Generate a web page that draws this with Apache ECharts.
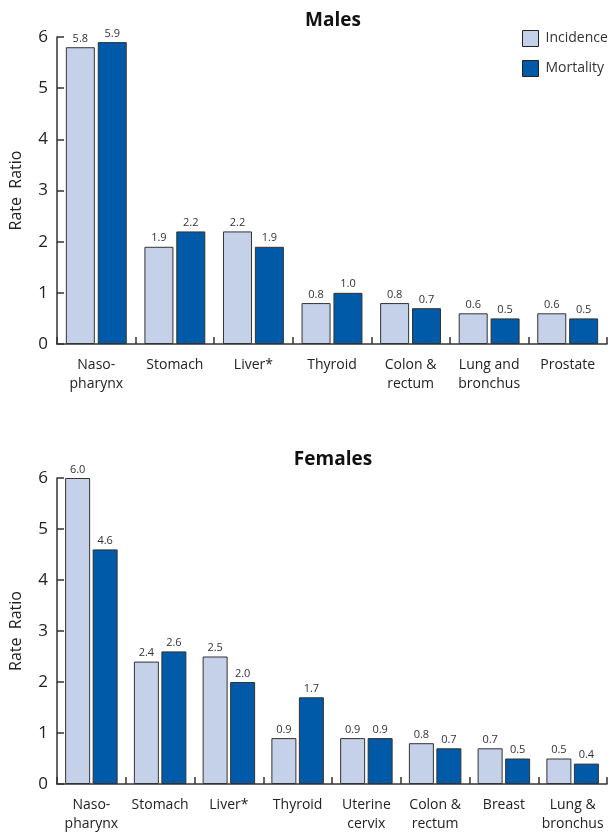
<!DOCTYPE html>
<html>
<head>
<meta charset="utf-8">
<script src="https://cdn.jsdelivr.net/npm/echarts@6/dist/echarts.min.js"></script>
<style>html,body{margin:0;padding:0;background:#fff}#c{width:614px;height:837px}</style>
</head>
<body>
<div id="c"></div>
<script>
var maleCategories = ['Naso-\npharynx', 'Stomach', 'Liver*', 'Thyroid', 'Colon &\nrectum', 'Lung and\nbronchus', 'Prostate'];
var maleIncidence = [5.8, 1.9, 2.2, 0.8, 0.8, 0.6, 0.6];
var maleMortality = [5.9, 2.2, 1.9, 1.0, 0.7, 0.5, 0.5];
var femaleCategories = ['Naso-\npharynx', 'Stomach', 'Liver*', 'Thyroid', 'Uterine\ncervix', 'Colon &\nrectum', 'Breast', 'Lung &\nbronchus'];
var femaleIncidence = [6.0, 2.4, 2.5, 0.9, 0.9, 0.8, 0.7, 0.5];
var femaleMortality = [4.6, 2.6, 2.0, 1.7, 0.9, 0.7, 0.5, 0.4];
var yTicks = [0, 1, 2, 3, 4, 5, 6];

var FONT = '"Open Sans", "Noto Sans", sans-serif';
var incColor = '#c5d1e8', morColor = '#005aa8';

function xAxis(idx, cats) {
  return {
    type: 'category', gridIndex: idx, data: cats,
    axisLine: {lineStyle: {color: '#333', width: 1.5}},
    axisTick: {show: true, inside: true, length: 7, alignWithLabel: false, lineStyle: {color: '#333', width: 1.5}},
    axisLabel: {color: '#222', fontSize: 14, fontFamily: FONT, lineHeight: 19, margin: 12, interval: 0}
  };
}
function yAxis(idx) {
  return {
    type: 'value', gridIndex: idx, min: yTicks[0], max: yTicks[yTicks.length - 1], interval: 1,
    name: 'Rate  Ratio', nameLocation: 'middle', nameGap: 33,
    nameTextStyle: {color: '#222', fontSize: 16, fontFamily: FONT},
    axisLine: {show: true, lineStyle: {color: '#333', width: 1.5}},
    axisTick: {show: true, inside: true, length: 7, lineStyle: {color: '#333', width: 1.5}},
    axisLabel: {color: '#222', fontSize: 17, fontFamily: FONT, margin: 9},
    splitLine: {show: false}
  };
}
function bar(name, idx, data, color, bw) {
  return {
    name: name, type: 'bar', xAxisIndex: idx, yAxisIndex: idx, data: data,
    barWidth: bw, barGap: '10%',
    itemStyle: {color: color, borderColor: '#333', borderWidth: 1},
    label: {show: true, position: 'top', distance: 3, fontSize: 11, color: '#333', fontFamily: FONT,
      formatter: function (p) { return p.value.toFixed(1); }},
    emphasis: {disabled: true}
  };
}

var chart = echarts.init(document.getElementById('c'));
chart.setOption({
  animation: false,
  backgroundColor: '#fff',
  title: [
    {text: 'Males', left: 328, top: 6, textAlign: 'center', textStyle: {fontSize: 19, fontWeight: 'bold', color: '#111', fontFamily: FONT}},
    {text: 'Females', left: 328, top: 445, textAlign: 'center', textStyle: {fontSize: 19, fontWeight: 'bold', color: '#111', fontFamily: FONT}}
  ],
  legend: {
    orient: 'vertical', left: 522, top: 30, padding: 0, itemWidth: 16, itemHeight: 16, itemGap: 13,
    icon: 'rect',
    data: ['Incidence', 'Mortality'],
    itemStyle: {borderColor: '#222', borderWidth: 1},
    textStyle: {fontSize: 14, color: '#333', fontFamily: FONT, padding: [0, 0, 0, 2]},
    selectedMode: false
  },
  grid: [
    {left: 56, right: 7, top: 37, height: 307, containLabel: false},
    {left: 56, right: 7, top: 478, height: 306, containLabel: false}
  ],
  xAxis: [xAxis(0, maleCategories), xAxis(1, femaleCategories)],
  yAxis: [yAxis(0), yAxis(1)],
  series: [
    bar('Incidence', 0, maleIncidence, incColor, 29),
    bar('Mortality', 0, maleMortality, morColor, 29),
    bar('Incidence', 1, femaleIncidence, incColor, 25),
    bar('Mortality', 1, femaleMortality, morColor, 25)
  ]
});
</script>
</body>
</html>
